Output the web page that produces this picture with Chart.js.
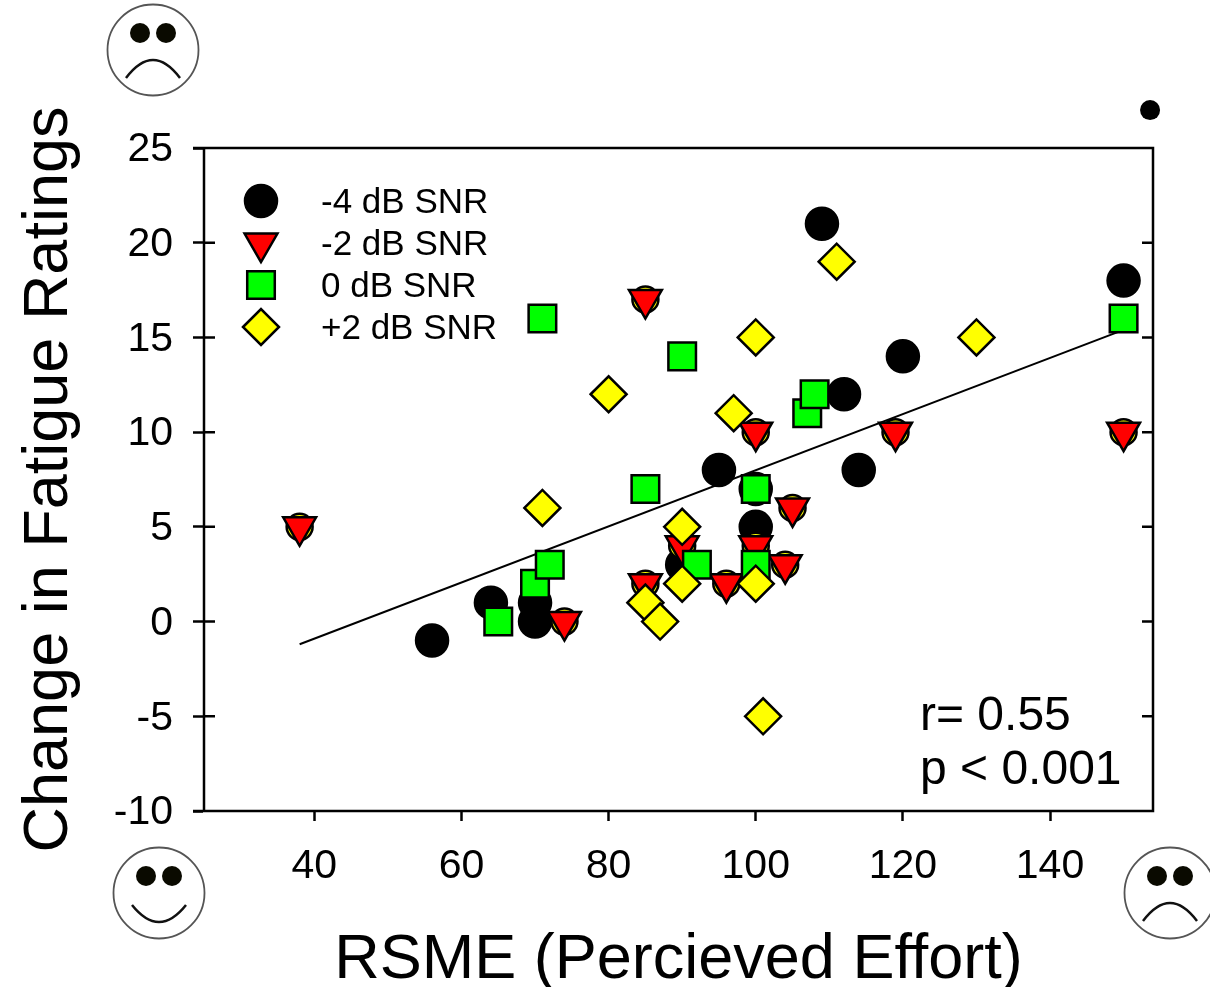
<!DOCTYPE html>
<html lang="en">
<head>
  <meta charset="UTF-8" />
  <title>Fatigue vs Effort</title>
  <script src="https://cdn.jsdelivr.net/npm/chart.js"></script>
  <style>
    body { margin: 0; background: white; }
    canvas { display: block; }
  </style>
</head>
<body>
  <canvas id="fatigueChart" width="1210" height="987"></canvas>

  <script>
    const xTickValues = [40, 60, 80, 100, 120, 140];
    const yTickValues = [-10, -5, 0, 5, 10, 15, 20, 25];

    const minus4X = [56, 64, 70, 70, 90, 95, 100, 100, 109, 112, 114, 120, 150];
    const minus4Y = [-1, 1, 1, 0, 3, 8, 7, 5, 21, 12, 8, 14, 18];

    const minus2X = [38, 74, 85, 85, 90, 96, 100, 100, 104, 105, 119, 150];
    const minus2Y = [5, 0, 17, 2, 4, 2, 10, 4, 3, 6, 10, 10];

    const zeroX = [65, 70, 71, 72, 85, 90, 92, 100, 100, 107, 108, 150];
    const zeroY = [0, 2, 16, 3, 7, 14, 3, 7, 3, 11, 12, 16];

    const plus2X = [71, 80, 85, 87, 90, 90, 97, 100, 100, 101, 111, 130];
    const plus2Y = [6, 12, 1, 0, 5, 2, 11, 15, 2, -5, 19, 15];

    const fitX = [38, 150];
    const fitY = [-1.2, 15.4];

    // the stray dot above the frame
    const strayX = [153.6];
    const strayY = [27];

    const statLines = ['r= 0.55', 'p < 0.001'];

    const FONT = '"Liberation Sans", Arial, sans-serif';

    function pts(xs, ys) {
      return xs.map((x, i) => ({ x, y: ys[i] }));
    }

    function marker(label, xs, ys, style, color, radius, order, rotation) {
      return {
        label,
        data: pts(xs, ys),
        order,
        pointStyle: style,
        pointRadius: radius,
        pointRotation: rotation || 0,
        pointBackgroundColor: color,
        pointBorderColor: '#000',
        pointBorderWidth: 2.5,
        clip: false
      };
    }

    function drawFace(ctx, cx, cy, happy) {
      ctx.save();
      ctx.beginPath();
      ctx.arc(cx, cy, 45.5, 0, Math.PI * 2);
      ctx.fillStyle = '#fff';
      ctx.fill();
      ctx.strokeStyle = '#555';
      ctx.lineWidth = 1.8;
      ctx.stroke();
      ctx.fillStyle = '#0a0a00';
      [-13, 13].forEach(dx => {
        ctx.beginPath();
        ctx.arc(cx + dx, cy - 17, 10, 0, Math.PI * 2);
        ctx.fill();
      });
      ctx.beginPath();
      ctx.strokeStyle = '#111';
      ctx.lineWidth = 2.5;
      if (happy) {
        ctx.moveTo(cx - 27, cy + 12);
        ctx.quadraticCurveTo(cx, cy + 46, cx + 27, cy + 12);
      } else {
        ctx.moveTo(cx - 27, cy + 28);
        ctx.quadraticCurveTo(cx, cy - 8, cx + 27, cy + 28);
      }
      ctx.stroke();
      ctx.restore();
    }

    const framePlugin = {
      id: 'frame',
      beforeDatasetsDraw(chart) {
        const { ctx, chartArea: a, scales } = chart;
        ctx.save();
        ctx.strokeStyle = '#000';
        ctx.lineWidth = 2.5;
        ctx.beginPath();
        ctx.moveTo(a.left - 11, a.top);
        ctx.lineTo(a.right, a.top);
        ctx.lineTo(a.right, a.bottom);
        ctx.lineTo(a.left - 11, a.bottom);
        ctx.moveTo(a.left, a.top);
        ctx.lineTo(a.left, a.bottom);
        yTickValues.forEach(v => {
          const y = scales.y.getPixelForValue(v);
          ctx.moveTo(a.left, y);
          ctx.lineTo(a.left + 11, y);
          ctx.moveTo(a.right - 11, y);
          ctx.lineTo(a.right, y);
        });
        ctx.stroke();
        ctx.restore();
      },
      afterDraw(chart) {
        const { ctx, scales } = chart;
        ctx.save();

        // legend inside the plot, taken from the datasets
        const legendRows = ['-4 dB SNR', '-2 dB SNR', '0 dB SNR', '+2 dB SNR'];
        legendRows.forEach((name, i) => {
          const ds = chart.data.datasets.find(d => d.label === name);
          const y = 201 + i * 42;
          ctx.fillStyle = ds.pointBackgroundColor;
          ctx.strokeStyle = ds.pointBorderColor;
          ctx.lineWidth = ds.pointBorderWidth;
          Chart.helpers.drawPoint(ctx, {
            pointStyle: ds.pointStyle,
            radius: ds.pointRadius,
            rotation: ds.pointRotation,
            borderWidth: ds.pointBorderWidth
          }, 261, y);
          ctx.fillStyle = '#000';
          ctx.font = '35px ' + FONT;
          ctx.textBaseline = 'alphabetic';
          ctx.textAlign = 'left';
          ctx.fillText(name, 321, y + 12);
        });

        ctx.font = '48px ' + FONT;
        ctx.fillStyle = '#000';
        ctx.fillText(statLines[0], 920, 730);
        ctx.fillText(statLines[1], 920, 784);

        strayX.forEach((x, i) => {
          ctx.beginPath();
          ctx.arc(scales.x.getPixelForValue(x), scales.y.getPixelForValue(strayY[i]), 10, 0, Math.PI * 2);
          ctx.fill();
        });

        drawFace(ctx, 153, 50, false);
        drawFace(ctx, 159, 893, true);
        drawFace(ctx, 1170, 893, false);
        ctx.restore();
      }
    };

    new Chart(document.getElementById('fatigueChart').getContext('2d'), {
      type: 'scatter',
      data: {
        datasets: [
          {
            label: 'fit',
            type: 'scatter',
            data: pts(fitX, fitY),
            showLine: true,
            borderColor: '#000',
            borderWidth: 2,
            pointRadius: 0,
            order: 6
          },
          marker('-4 dB SNR', minus4X, minus4Y, 'circle', '#000', 16, 5),
          marker('+2 dB SNR backing', minus2X, minus2Y, 'circle', '#ffff00', 13, 4),
          marker('-2 dB SNR', minus2X, minus2Y, 'triangle', '#ff0000', 19, 3, 180),
          marker('0 dB SNR', zeroX, zeroY, 'rect', '#00ff00', 19.5, 2),
          marker('+2 dB SNR', plus2X, plus2Y, 'rectRot', '#ffff00', 18, 1)
        ]
      },
      plugins: [framePlugin],
      options: {
        responsive: false,
        animation: false,
        events: [],
        layout: { autoPadding: false, padding: { top: 148, right: 57, left: 0, bottom: 0 } },
        plugins: { legend: { display: false }, tooltip: { enabled: false } },
        scales: {
          x: {
            type: 'linear',
            min: 25,
            max: 154,
            afterFit(scale) { scale.height = 176; },
            afterBuildTicks(scale) { scale.ticks = xTickValues.map(value => ({ value })); },
            border: { display: true, color: '#000', width: 2 },
            grid: { drawOnChartArea: false, tickLength: 10, tickColor: '#000', tickWidth: 2.5 },
            ticks: { color: '#000', font: { family: FONT, size: 41 }, padding: 21, maxRotation: 0, autoSkip: false },
            title: { display: true, text: 'RSME (Percieved Effort)', color: '#000', font: { family: FONT, size: 63 }, padding: { top: 0, bottom: -11 } }
          },
          y: {
            min: -10,
            max: 25,
            afterFit(scale) { scale.width = 204; },
            afterBuildTicks(scale) { scale.ticks = yTickValues.map(value => ({ value })); },
            border: { display: true, color: '#000', width: 2 },
            grid: { drawOnChartArea: false, tickLength: 11, tickColor: '#000', tickWidth: 2.5 },
            ticks: { color: '#000', font: { family: FONT, size: 41 }, padding: 20, labelOffset: 2, autoSkip: false },
            title: { display: true, text: 'Change in Fatigue Ratings', color: '#000', font: { family: FONT, size: 63 }, padding: { top: 12, bottom: 0 } }
          }
        }
      }
    });
  </script>
</body>
</html>
